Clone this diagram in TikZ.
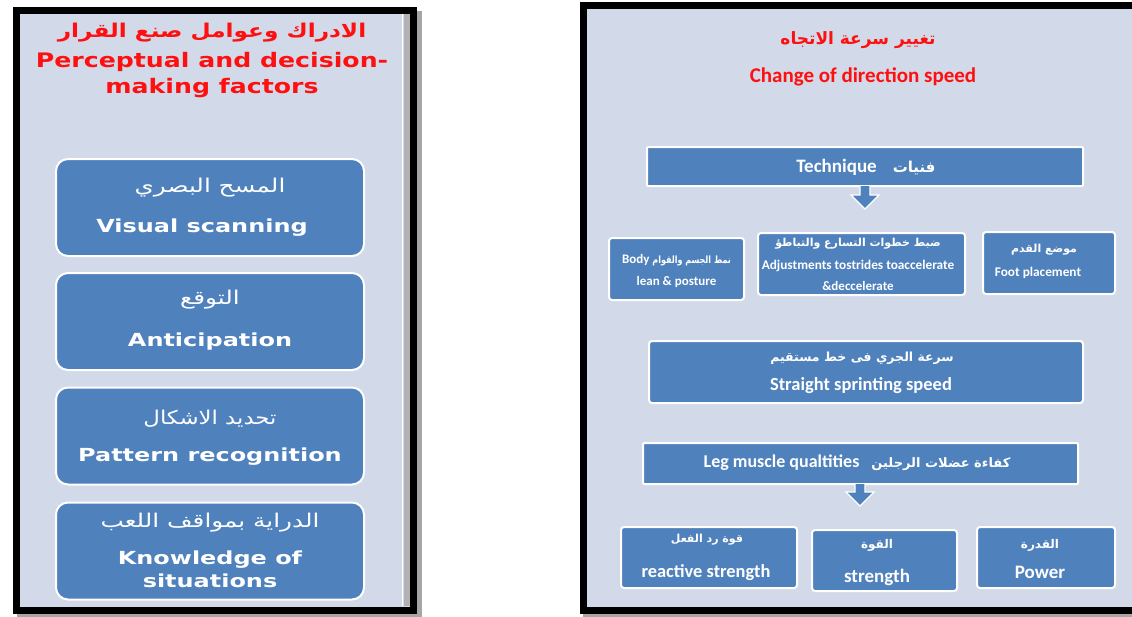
\documentclass[tikz,border=0pt]{standalone}
\usepackage{graphicx}
\usepackage{fontspec}
\setmainfont{DejaVu Sans}
\newfontfamily\arfont[Script=Arabic]{DejaVu Sans}
\newfontfamily\carl{Carlito}
\TeXXeTstate=1
\newcommand{\AR}[1]{{\arfont\beginR #1\endR}}
\newcommand{\fs}[1]{\fontsize{#1}{#1}\selectfont}
\newcommand{\hsc}[2]{\scalebox{#1}[1]{#2}}
\definecolor{bgpanel}{HTML}{D2D9E8}
\definecolor{boxblue}{HTML}{4F81BD}
\definecolor{titlered}{HTML}{FF1010}
\tikzset{
  frame/.style={draw=black, line width=7pt, fill=bgpanel},
  shadowframe/.style={draw=black!35, line width=7pt},
  lbox/.style={draw=white, line width=2pt, fill=boxblue, rounded corners=12pt, inner sep=0pt},
  rbox/.style={draw=white, line width=2pt, fill=boxblue, rounded corners=3pt, inner sep=0pt},
  ltxt/.style={text=white, font=\bfseries\fs{18}, inner sep=0pt},
  lartxt/.style={text=white, font=\fs{19}, inner sep=0pt},
  rtxt/.style={text=white, font=\carl\bfseries\fs{18}, inner sep=0pt},
  rsmall/.style={text=white, font=\carl\bfseries\fs{13}, inner sep=0pt},
  rartxt/.style={text=white, font=\bfseries\fs{12}, inner sep=0pt},
  blockarrow/.style={fill=boxblue, draw=white, line width=1.2pt, line join=miter},
}
\begin{document}
\begin{tikzpicture}[x=1pt,y=-1pt]
\useasboundingbox (0,0) rectangle (1132,616);
\clip (0,0) rectangle (1132,616);
\fill[white] (0,0) rectangle (1132,616);
% ---------- left panel ----------
\draw[shadowframe] (20,14) rectangle (418,614);
\draw[frame] (16,10) rectangle (413,610);
\draw[white, line width=1.5pt] (402.5,14) -- (402.5,606);
\fill[black!30] (404,14) rectangle (409.5,606);
\node[text=titlered, font=\bfseries\fs{19}, inner sep=0pt] (lt1) at (212,33) {\hsc{1.22}{\AR{الادراك وعوامل صنع القرار}}};
\node[text=titlered, font=\bfseries\fs{20}, inner sep=0pt] (lt2) at (212,62) {\hsc{1.26}{Perceptual and decision-}};
\node[text=titlered, font=\bfseries\fs{20}, inner sep=0pt] (lt3) at (212,88) {\hsc{1.26}{making factors}};

\node[lbox, minimum width=308pt, minimum height=97pt] (b1) at (210,207.5) {};
\node[lartxt] (b1a) at (210,188) {\hsc{1.3}{\AR{المسح البصري}}};
\node[ltxt] (b1b) at (202,228) {\hsc{1.33}{Visual scanning}};

\node[lbox, minimum width=308pt, minimum height=97pt] (b2) at (210,321.5) {};
\node[lartxt] (b2a) at (210,300) {\hsc{1.3}{\AR{التوقع}}};
\node[ltxt] (b2b) at (210,342) {\hsc{1.33}{Anticipation}};

\node[lbox, minimum width=308pt, minimum height=97pt] (b3) at (210,436) {};
\node[lartxt] (b3a) at (210,419) {\hsc{1.2}{\AR{تحديد الاشكال}}};
\node[ltxt] (b3b) at (210,457) {\hsc{1.33}{Pattern recognition}};

\node[lbox, minimum width=308pt, minimum height=97pt] (b4) at (210,551) {};
\node[lartxt] (b4a) at (210,523) {\hsc{1.3}{\AR{الدراية بمواقف اللعب}}};
\node[ltxt] (b4b) at (210,560) {\hsc{1.33}{Knowledge of}};
\node[ltxt] (b4c) at (210,581) {\hsc{1.33}{situations}};

% ---------- right panel ----------
\draw[shadowframe] (586,9) rectangle (1160,614);
\draw[frame] (583,5) rectangle (1160,610);
\node[text=titlered, font=\bfseries\fs{17}, inner sep=0pt] (rt1) at (858,40) {\AR{تغيير سرعة الاتجاه}};
\node[text=titlered, font=\carl\bfseries\fs{21}, inner sep=0pt] (rt2) at (863,77) {Change of direction speed};

\node[rbox, rounded corners=1pt, minimum width=436pt, minimum height=39pt] (tech) at (865,166.5) {};
\node[rtxt, font=\carl\bfseries\fs{19}] (techt) at (866,167) {Technique\hspace{16pt}{\fs{15}\AR{فنيات}}};
\coordinate (a1) at (tech.south);
\draw[blockarrow] ([xshift=-5pt,yshift=1pt]a1) -- ++(0,9) -- ++(-9,0) -- ++(14,14) -- ++(14,-14) -- ++(-9,0) -- ++(0,-9);

\node[rbox, minimum width=135pt, minimum height=62pt] (body) at (676.5,269) {};
\node[rsmall] (bodya) at (676.5,260) {Body {\fs{10}\hsc{0.8}{\AR{نمط الجسم والقوام}}}};
\node[rsmall] (bodyb) at (676.5,282) {lean \& posture};

\node[rbox, minimum width=207pt, minimum height=62pt] (mid) at (861.5,264) {};
\node[rartxt, font=\bfseries\fs{11}] (mida) at (858,244) {\AR{ضبط خطوات التسارع والتباطؤ}};
\node[rsmall, font=\carl\bfseries\fs{13.3}] (midb) at (858,266) {Adjustments tostrides toaccelerate};
\node[rsmall] (midc) at (858,286) {\&deccelerate};

\node[rbox, minimum width=132pt, minimum height=62pt] (foot) at (1049,263) {};
\node[rartxt, font=\bfseries\fs{11}] (foota) at (1044,250) {\AR{موضع القدم}};
\node[rsmall, font=\carl\bfseries\fs{13.3}] (footb) at (1038,273) {Foot placement};

\node[rbox, minimum width=434pt, minimum height=62pt] (straight) at (866,372) {};
\node[rartxt, font=\bfseries\fs{12.5}] (sa) at (862,358) {\AR{سرعة الجري فى خط مستقيم}};
\node[rtxt, font=\carl\bfseries\fs{18.5}] (sb) at (861,386) {Straight sprinting speed};

\node[rbox, rounded corners=1pt, minimum width=435pt, minimum height=41pt] (leg) at (860.5,463.5) {};
\node[rtxt, font=\carl\bfseries\fs{18}] (legt) at (857,463) {Leg muscle qualtities\hspace{12pt}{\fs{13}\AR{كفاءة عضلات الرجلين}}};
\coordinate (a2) at (860,484);
\draw[blockarrow] ([xshift=-5pt,yshift=0pt]a2) -- ++(0,8) -- ++(-9,0) -- ++(14,14) -- ++(14,-14) -- ++(-9,0) -- ++(0,-8);

\node[rbox, minimum width=176pt, minimum height=61pt] (react) at (709,557.5) {};
\node[rartxt, font=\bfseries\fs{11}] (reacta) at (707,540) {\AR{قوة رد الفعل}};
\node[rtxt, font=\carl\bfseries\fs{18.4}] (reactb) at (706,573) {reactive strength};

\node[rbox, minimum width=145pt, minimum height=61pt] (str) at (884.5,560.5) {};
\node[rartxt, font=\bfseries\fs{12}] (stra) at (877,545) {\AR{القوة}};
\node[rtxt, font=\carl\bfseries\fs{19}] (strb) at (877,577) {strength};

\node[rbox, minimum width=138pt, minimum height=61pt] (pow) at (1046,557.5) {};
\node[rartxt, font=\bfseries\fs{12}] (powa) at (1040,545) {\AR{القدرة}};
\node[rtxt, font=\carl\bfseries\fs{19}] (powb) at (1040,572) {Power};
\end{tikzpicture}
\end{document}
